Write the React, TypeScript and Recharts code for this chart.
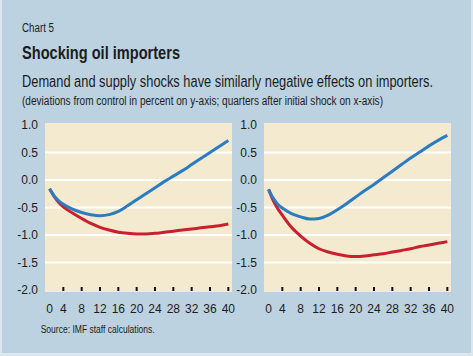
import { LineChart, Line, XAxis, YAxis, CartesianGrid } from "recharts";

// quarters after the initial shock (the first point is labelled "0" on the original)
const quarters = [1, 2, 3, 4, 6, 8, 10, 12, 14, 16, 18, 20, 22, 24, 26, 28, 30, 32, 34, 36, 38, 40];

// left panel
const leftBlue = [-0.16, -0.29, -0.38, -0.44, -0.53, -0.59, -0.63, -0.65, -0.63, -0.57, -0.47, -0.36, -0.25, -0.14, -0.03, 0.07, 0.17, 0.28, 0.39, 0.5, 0.61, 0.72];
const leftRed = [-0.16, -0.3, -0.41, -0.49, -0.6, -0.7, -0.79, -0.86, -0.91, -0.95, -0.97, -0.98, -0.98, -0.97, -0.95, -0.93, -0.91, -0.89, -0.87, -0.85, -0.83, -0.8];

// right panel
const rightBlue = [-0.17, -0.33, -0.44, -0.51, -0.61, -0.67, -0.71, -0.7, -0.64, -0.54, -0.43, -0.31, -0.19, -0.08, 0.04, 0.16, 0.28, 0.4, 0.51, 0.62, 0.72, 0.81];
const rightRed = [-0.17, -0.37, -0.52, -0.64, -0.86, -1.02, -1.15, -1.25, -1.31, -1.35, -1.38, -1.39, -1.38, -1.36, -1.34, -1.31, -1.28, -1.25, -1.21, -1.18, -1.15, -1.12];

const xTicks = [1, 4, 8, 12, 16, 20, 24, 28, 32, 36, 40];
const xTickLabels = ["0", "4", "8", "12", "16", "20", "24", "28", "32", "36", "40"];
const yTicks = [-2, -1.5, -1, -0.5, 0, 0.5, 1];
const gridValues = [-1.5, -1, -0.5, 0, 0.5];

const BLUE = "#2b7cc2";
const RED = "#c8202f";
const PLOT_BG = "#f4ead0";
const PANEL_BG = "#bcd2e0";
const TEXT = "#1c1c1c";
const FONT = "'Liberation Sans', Arial, sans-serif";
const NARROW = "'Liberation Sans Narrow', 'Liberation Sans', Arial, sans-serif";

const XTick = (props: any) => {
  const { x, y, payload, index } = props;
  return (
    <g>
      {index > 0 && <rect x={x - 1} y={y - 5} width={2} height={4} fill="#111" />}
      <text x={x} y={y + 21} textAnchor="middle" fontSize={12} fontFamily={FONT} fill={TEXT}>
        {xTickLabels[index] ?? payload.value}
      </text>
    </g>
  );
};

function Panel({ blue, red, left }: { blue: number[]; red: number[]; left: number }) {
  const data = quarters.map((q, i) => ({ q, blue: blue[i], red: red[i] }));
  return (
    <div style={{ position: "absolute", left, top: 110 }}>
      <LineChart width={244} height={212} data={data} margin={{ top: 13, right: 12, bottom: 0, left: 0 }}>
        <CartesianGrid
          vertical={false}
          horizontalValues={gridValues}
          stroke="#ffffff"
          strokeWidth={2}
          fill={PLOT_BG}
          fillOpacity={1}
        />
        <XAxis
          dataKey="q"
          type="number"
          domain={[0, 40.8]}
          ticks={xTicks}
          interval={0}
          height={30}
          axisLine={false}
          tickLine={false}
          tickSize={0}
          tickMargin={0}
          tick={<XTick />}
          allowDataOverflow
        />
        <YAxis
          type="number"
          domain={[-2.036, 1.036]}
          ticks={yTicks}
          interval={0}
          width={45}
          axisLine={false}
          tickLine={false}
          tickSize={0}
          tickMargin={7}
          tickFormatter={(v: number) => v.toFixed(1)}
          tick={{ fontSize: 12, fontFamily: FONT, fill: TEXT }}
          allowDataOverflow
        />
        <Line type="monotone" dataKey="red" stroke={RED} strokeWidth={3} dot={false} isAnimationActive={false} />
        <Line type="monotone" dataKey="blue" stroke={BLUE} strokeWidth={3} dot={false} isAnimationActive={false} />
      </LineChart>
    </div>
  );
}

export default function App() {
  return (
    <div style={{ position: "absolute", left: 0, top: 0, width: 473, height: 356, background: "#dbe6ed", overflow: "hidden" }}>
      <div style={{ position: "absolute", left: 2, top: 0, width: 469, height: 353, background: PANEL_BG }} />
      <svg width={473} height={356} style={{ position: "absolute", left: 0, top: 0 }}>
        <text x={22} y={31.5} fontSize={12} fontFamily={NARROW} fill={TEXT} textLength={32} lengthAdjust="spacingAndGlyphs">
          Chart 5
        </text>
        <text x={22} y={59.3} fontSize={18} fontWeight="bold" fontFamily={NARROW} fill={TEXT} textLength={158} lengthAdjust="spacingAndGlyphs">
          Shocking oil importers
        </text>
        <text x={22} y={86.5} fontSize={16} fontFamily={NARROW} fill={TEXT} textLength={411} lengthAdjust="spacingAndGlyphs">
          Demand and supply shocks have similarly negative effects on importers.
        </text>
        <text x={22} y={105} fontSize={12} fontFamily={NARROW} fill={TEXT} textLength={361} lengthAdjust="spacingAndGlyphs">
          (deviations from control in percent on y-axis; quarters after initial shock on x-axis)
        </text>
        <text x={40.7} y={332.7} fontSize={10} fontFamily={NARROW} fill={TEXT} textLength={114} lengthAdjust="spacingAndGlyphs">
          Source: IMF staff calculations.
        </text>
      </svg>
      <Panel blue={leftBlue} red={leftRed} left={0} />
      <Panel blue={rightBlue} red={rightRed} left={219} />
    </div>
  );
}
